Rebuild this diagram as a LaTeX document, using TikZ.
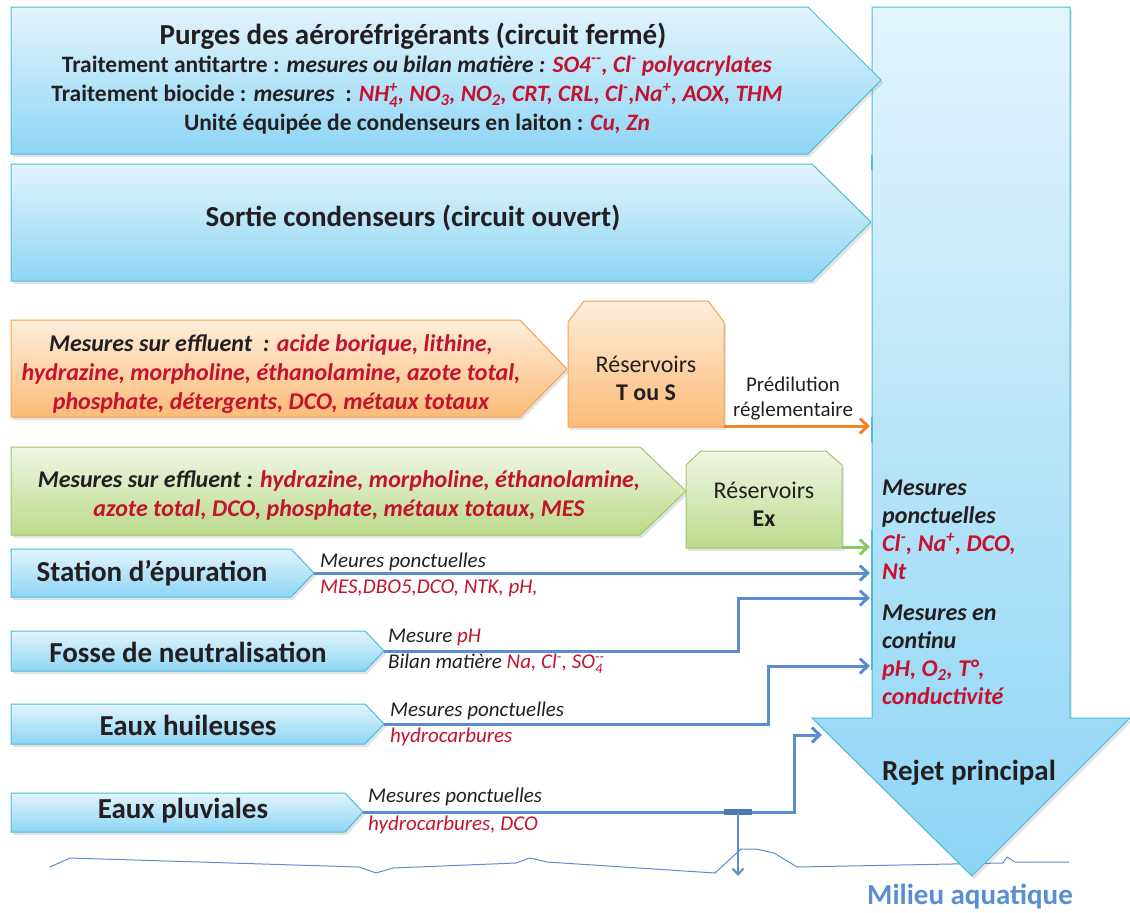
\documentclass[tikz,border=0pt]{standalone}
\usepackage{fontspec}
\setmainfont{Carlito}
\usepackage{amsmath}
\usetikzlibrary{arrows.meta,positioning,calc,shadows}
\definecolor{rcyan}{HTML}{4BBDD7}
\definecolor{rtop}{HTML}{E3F4FC}
\definecolor{rmid}{HTML}{CBEBF8}
\definecolor{rbot}{HTML}{8DD5F5}
\definecolor{oline}{HTML}{F5A24F}
\definecolor{otop}{HTML}{FEEEDC}
\definecolor{obot}{HTML}{FBBB77}
\definecolor{gline}{HTML}{A3C46C}
\definecolor{gtop}{HTML}{F0F6E4}
\definecolor{gbot}{HTML}{BBDA8B}
\definecolor{rred}{HTML}{C4122F}
\definecolor{rblue}{HTML}{5A8ED0}
\definecolor{rorange}{HTML}{F08526}
\definecolor{rgreen}{HTML}{8DC866}
\definecolor{rink}{HTML}{231F20}
\newcommand{\rd}[1]{\textcolor{rred}{#1}}
\newcommand{\subsup}[2]{\ensuremath{_{\text{#1}}^{\text{#2}}}}
\tikzset{
  shade/.style={drop shadow={opacity=.22,shadow xshift=2pt,shadow yshift=-3pt}},
  bluebox/.style={draw=rcyan,line width=1pt,top color=rtop,bottom color=rbot,shade},
  orangebox/.style={draw=oline,line width=1pt,top color=otop,bottom color=obot,shade},
  greenbox/.style={draw=gline,line width=1pt,top color=gtop,bottom color=gbot,shade},
  big/.style={font=\fontsize{29}{34}\selectfont\bfseries,text=rink,inner sep=0pt},
  sub/.style={font=\fontsize{23.5}{29}\selectfont\bfseries,text=rink,align=center,inner sep=0pt},
  eff/.style={font=\fontsize{24}{29}\selectfont\bfseries\itshape,text=rink,align=center,inner sep=0pt},
  res/.style={font=\fontsize{24}{28}\selectfont,text=rink,align=center,inner sep=0pt},
  lbl/.style={font=\fontsize{21}{24}\selectfont\itshape,text=rink,anchor=west,inner sep=0pt},
  shafttxt/.style={font=\fontsize{24}{28}\selectfont\bfseries\itshape,text=rink,align=left,anchor=west,inner sep=0pt},
  barr/.style={draw=rblue,line width=3pt,-{Straight Barb[length=8pt,width=15pt]}},
  thinarr/.style={draw=rblue,line width=2pt,-{Straight Barb[length=6pt,width=11pt]}},
  oarr/.style={draw=rorange,line width=3pt,-{Straight Barb[length=8pt,width=15pt]}},
  garr/.style={draw=rgreen,line width=3pt,-{Straight Barb[length=8pt,width=15pt]}},
}
\begin{document}
\begin{tikzpicture}[x=1pt,y=-1pt]
  \useasboundingbox (0,0) rectangle (1130,913);

  % milieu (water line, behind the arrow tip)
  \draw[rblue,line width=1pt] (50,867) -- (70,858) -- (359,867) -- (376,873) -- (393,868) -- (516,863) -- (530,858)
    -- (547,862) -- (715,873) -- (741,849) -- (756,849) -- (774,853) -- (797,867) -- (1003,863) -- (1007,857) -- (1015,862) -- (1069,862);

  % rejet principal
  \path[draw=rcyan,line width=1pt,top color=rtop,middle color=rmid,bottom color=rbot,shade]
    (872,7) -- (1070,7) -- (1070,718) -- (1130,718) -- (972,876) -- (812,718) -- (872,718) -- cycle;
  \coordinate (rj) at (870,7);
  \draw[rcyan,line width=2.5pt] (872,155) -- (872,170);
  \draw[rcyan,line width=2.5pt] (872,417) -- (872,443);
  \draw[rcyan,line width=2.5pt] (872,530) -- (872,670);

  % aerorefrigerants
  \path[bluebox] (11,7) -- (808,7) -- (881,80) -- (808,154) -- (11,154) -- cycle;
  \node[big] (purges) at (413,36) {Purges des aéroréfrigérants (circuit fermé)};
  \node[sub] (traits) at (417,95) {Traitement antitartre : \textit{mesures ou bilan matière :} \rd{\textit{SO4\textsuperscript{-{}-}, Cl\textsuperscript{-} polyacrylates}}\\
    Traitement biocide : \textit{mesures} \ : \rd{\textit{NH\subsup{4}{+}, NO\textsubscript{3}, NO\textsubscript{2}, CRT, CRL, Cl\textsuperscript{-},Na\textsuperscript{+}, AOX, THM}}\\
    Unité équipée de condenseurs en laiton : \rd{\textit{Cu, Zn}}};

  % condenseurs
  \path[bluebox] (11,164) -- (812,164) -- (871,222) -- (812,281) -- (11,281) -- cycle;
  \node[big] (sortie) at (413,218) {Sortie condenseurs (circuit ouvert)};

  % effluents T ou S
  \path[orangebox] (11,320) -- (520,320) -- (567,369) -- (520,417) -- (11,417) -- cycle;
  \node[eff] (effTS) at (271,374) {Mesures sur effluent \ : \rd{acide borique, lithine,}\\
    \rd{hydrazine, morpholine, éthanolamine, azote total,}\\
    \rd{phosphate, détergents, DCO, métaux totaux}};
  \path[orangebox] (568,322) -- (584,301) -- (708,301) -- (724,322) -- (724,427) -- (568,427) -- cycle;
  \node[res] (resTS) at (646,378) {Réservoirs\\\textbf{T ou S}};
  \coordinate (tsOut) at (724,426);
  \draw[oarr] (tsOut) -- (tsOut -| rj);
  \node[font=\fontsize{21}{25}\selectfont,text=rink,align=center,inner sep=0pt] (predil) at (793,399) {Prédilution\\réglementaire};

  % effluents Ex
  \path[greenbox] (11,447) -- (640,447) -- (686,491) -- (640,535) -- (11,535) -- cycle;
  \node[eff] (effEx) at (339,495) {Mesures sur effluent : \rd{hydrazine, morpholine, éthanolamine,}\\
    \rd{azote total, DCO, phosphate, métaux totaux, MES}};
  \path[greenbox] (686,465) -- (701,451) -- (826,451) -- (842,465) -- (842,548) -- (686,548) -- cycle;
  \node[res] (resEx) at (764,504) {Réservoirs\\\textbf{Ex}};
  \coordinate (exOut) at (842,547);
  \draw[garr] (exOut) -- (exOut -| rj);

  % station d'epuration
  \path[bluebox] (11,549) -- (291,549) -- (314,573) -- (291,597) -- (11,597) -- cycle;
  \node[big] (station) at (152,573) {Station d’épuration};
  \coordinate (statTip) at (314,573);
  \draw[barr] (statTip) -- (statTip -| rj);
  \node[lbl] (statM) at (320,562) {Meures ponctuelles};
  \node[lbl,text=rred] (statR) at (320,588) {MES,DBO5,DCO, NTK, pH,};

  % fosse de neutralisation
  \path[bluebox] (11,631) -- (365,631) -- (384,651) -- (365,671) -- (11,671) -- cycle;
  \node[big] (fosse) at (188,652) {Fosse de neutralisation};
  \coordinate (fosTip) at (384,651);
  \coordinate (fosUp) at (738,598);
  \draw[barr] (fosTip) -| (fosUp) -- (fosUp -| rj);
  \node[lbl] (fosM) at (388,637) {Mesure \rd{pH}};
  \node[lbl] (fosB) at (388,664) {Bilan matière \rd{Na, Cl\textsuperscript{-}, SO\subsup{4}{-{}-}}};

  % eaux huileuses
  \path[bluebox] (11,704) -- (365,704) -- (384,724) -- (365,744) -- (11,744) -- cycle;
  \node[big] (huile) at (188,725) {Eaux huileuses};
  \coordinate (huiTip) at (384,724);
  \coordinate (huiUp) at (768,666);
  \draw[barr] (huiTip) -| (huiUp) -- (huiUp -| rj);
  \node[lbl] (huiM) at (390,711) {Mesures ponctuelles};
  \node[lbl,text=rred] (huiR) at (390,737) {hydrocarbures};

  % eaux pluviales
  \path[bluebox] (11,793) -- (345,793) -- (363,812) -- (345,832) -- (11,832) -- cycle;
  \node[big] (pluie) at (183,811) {Eaux pluviales};
  \coordinate (pluTip) at (363,812);
  \coordinate (pluUp) at (794,735);
  \coordinate (pluIn) at (822,735);
  \draw[barr] (pluTip) -| (pluUp) -- (pluIn);
  \node[lbl] (pluM) at (368,797) {Mesures ponctuelles};
  \node[lbl,text=rred] (pluR) at (368,825) {hydrocarbures, DCO};
  \coordinate (pluBr) at (738,812);
  \coordinate (pluOut) at (738,876);
  \fill[rblue!85!black] ($(pluBr)+(-14,-3)$) rectangle ($(pluBr)+(14,3)$);
  \draw[thinarr] (pluBr) -- (pluOut);

  % rejet text
  \node[shafttxt] (ponct) at (882,530) {Mesures\\ponctuelles\\\rd{Cl\textsuperscript{-}, Na\textsuperscript{+}, DCO,}\\\rd{Nt}};
  \node[shafttxt] (contin) at (882,655) {Mesures en\\continu\\\rd{pH, O\textsubscript{2}, T°,}\\\rd{conductivité}};
  \node[big,anchor=west] (rejet) at (882,773) {Rejet principal};

  \node[font=\fontsize{29}{34}\selectfont\bfseries,text=rblue,inner sep=0pt] (milieu) at (970,897) {Milieu aquatique};
\end{tikzpicture}
\end{document}
